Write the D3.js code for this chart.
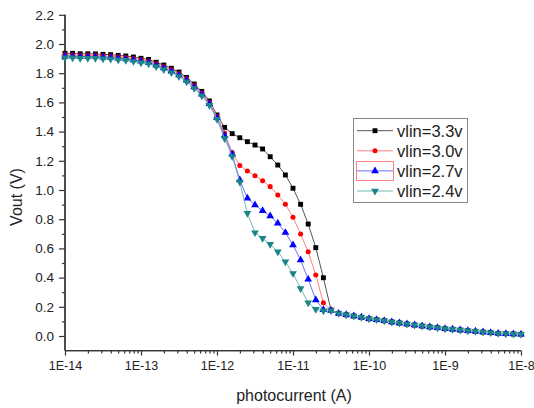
<!DOCTYPE html>
<html>
<head>
<meta charset="utf-8">
<script src="https://d3js.org/d3.v7.min.js"></script>
<style>
body { margin: 0; background: #fff; font-family: 'Liberation Sans', Arial, sans-serif; }
svg text { fill: #222; }
</style>
</head>
<body>
<svg id="chart"></svg>
<script>
// photocurrent exponents (10^x A), one point every 0.1 decade
var exps = [-14,-13.9,-13.8,-13.7,-13.6,-13.5,-13.4,-13.3,-13.2,-13.1,
  -13,-12.9,-12.8,-12.7,-12.6,-12.5,-12.4,-12.3,-12.2,-12.1,
  -12,-11.9,-11.8,-11.7,-11.6,-11.5,-11.4,-11.3,-11.2,-11.1,
  -11,-10.9,-10.8,-10.7,-10.6,-10.5,-10.4,-10.3,-10.2,-10.1,
  -10,-9.9,-9.8,-9.7,-9.6,-9.5,-9.4,-9.3,-9.2,-9.1,
  -9,-8.9,-8.8,-8.7,-8.6,-8.5,-8.4,-8.3,-8.2,-8.1,-8];

var tail = [0.155,0.145,0.137,0.128,0.118,0.112,0.105,0.096,0.089,0.082,
  0.075,0.068,0.062,0.057,0.050,0.046,0.041,0.036,0.032,0.027,
  0.023,0.018,0.016,0.014,0.012];

var v33 = [1.936,1.936,1.933,1.933,1.932,1.929,1.927,1.922,1.918,1.911,
  1.902,1.894,1.875,1.856,1.834,1.808,1.771,1.726,1.675,1.610,
  1.514,1.429,1.386,1.358,1.331,1.308,1.281,1.228,1.171,1.103,
  1.012,0.902,0.767,0.605,0.399,0.178].concat(tail);
var v30 = [1.926,1.926,1.923,1.923,1.922,1.919,1.917,1.912,1.908,1.901,
  1.892,1.884,1.865,1.846,1.824,1.798,1.761,1.716,1.665,1.600,
  1.504,1.390,1.256,1.167,1.130,1.098,1.064,1.023,0.966,0.902,
  0.813,0.699,0.577,0.418,0.228,0.176].concat(tail);
var v27 = [1.916,1.916,1.913,1.913,1.912,1.909,1.907,1.902,1.898,1.891,
  1.882,1.874,1.855,1.836,1.814,1.788,1.751,1.706,1.655,1.590,
  1.494,1.372,1.245,1.068,0.943,0.897,0.858,0.822,0.772,0.708,
  0.623,0.521,0.388,0.247,0.180,0.175].concat(tail);
var v24 = [1.906,1.906,1.903,1.903,1.902,1.899,1.897,1.892,1.888,1.881,
  1.872,1.864,1.845,1.826,1.804,1.778,1.741,1.696,1.645,1.580,
  1.484,1.352,1.230,1.055,0.840,0.708,0.669,0.628,0.577,0.509,
  0.429,0.326,0.228,0.183,0.173,0.173].concat(tail);

var names = ["vlin=3.3v", "vlin=3.0v", "vlin=2.7v", "vlin=2.4v"];
var yTicks = [0,0.2,0.4,0.6,0.8,1.0,1.2,1.4,1.6,1.8,2.0,2.2];
var yMinor = [0.1,0.3,0.5,0.7,0.9,1.1,1.3,1.5,1.7,1.9,2.1];
var xTicks = [1e-14,1e-13,1e-12,1e-11,1e-10,1e-9,1e-8];
var xTickLabels = ["1E-14","1E-13","1E-12","1E-11","1E-10","1E-9","1E-8"];

var styles = [
  {line: "#555", fill: "#000", shape: d3.symbolSquare, size: 24, rot: 0},
  {line: "#ff7f7f", fill: "#ff0000", shape: d3.symbolCircle, size: 20, rot: 0},
  {line: "#6f6fff", fill: "#0000ff", shape: d3.symbolTriangle, size: 26, rot: 0},
  {line: "#6fb8b8", fill: "#1a8585", shape: d3.symbolTriangle, size: 26, rot: 180}
];

var W = 534, H = 408;
var svg = d3.select("#chart").attr("width", W).attr("height", H);

var x = d3.scaleLog().domain([1e-14, 1e-8]).range([65, 521]);
var y = d3.scaleLinear().domain([-0.1, 2.2]).range([350.6, 14.8]);

var series = [v33, v30, v27, v24].map(function(vals, k) {
  return {name: names[k], st: styles[k], pts: vals.map(function(v, i) { return [Math.pow(10, exps[i]), v]; })};
});

// y axis
var gy = svg.append("g").attr("transform", "translate(65,0)");
gy.call(d3.axisLeft(y).tickValues(yTicks).tickFormat(d3.format(".1f")).tickSize(6).tickPadding(5));
gy.append("g").call(d3.axisLeft(y).tickValues(yMinor).tickFormat("").tickSize(3));
gy.selectAll(".domain").attr("stroke", "#333").attr("stroke-width", 1.3).attr("d", "M0," + y(-0.1) + "V" + y(2.2));
gy.selectAll("line").attr("stroke", "#333").attr("stroke-width", 1.2);
gy.selectAll("text").style("font-size", "13.5px").style("fill", "#222").style("font-family", "'Liberation Sans', Arial, sans-serif");

// x axis
var minor = [];
for (var e = -14; e < -8; e++) for (var m = 2; m <= 9; m++) minor.push(m * Math.pow(10, e));
var gx = svg.append("g").attr("transform", "translate(0," + y(-0.1) + ")");
gx.call(d3.axisBottom(x).tickValues(xTicks).tickFormat(function(d, i) { return xTickLabels[i]; }).tickSize(5).tickPadding(6));
gx.append("g").call(d3.axisBottom(x).tickValues(minor).tickFormat("").tickSize(3));
gx.selectAll(".domain").attr("stroke", "#333").attr("stroke-width", 1.3).attr("d", "M65,0H" + x(1e-8));
gx.selectAll("line").attr("stroke", "#333").attr("stroke-width", 1.2);
gx.selectAll("text").style("font-size", "12.5px").style("fill", "#222").style("font-family", "'Liberation Sans', Arial, sans-serif");

// axis titles
svg.append("text").attr("x", 294).attr("y", 401).attr("text-anchor", "middle")
  .style("font-size", "16px").text("photocurrent (A)");
svg.append("text").attr("transform", "translate(21.5,197) rotate(-90)").attr("text-anchor", "middle")
  .style("font-size", "16px").text("Vout (V)");

// curves
var line = d3.line().x(function(d) { return x(d[0]); }).y(function(d) { return y(d[1]); });
series.forEach(function(s) {
  var g = svg.append("g");
  g.append("path").datum(s.pts).attr("d", line).attr("fill", "none")
    .attr("stroke", s.st.line).attr("stroke-width", 1);
  g.selectAll("path.pt").data(s.pts).enter().append("path").attr("class", "pt")
    .attr("d", d3.symbol().type(s.st.shape).size(s.st.size))
    .attr("transform", function(d) { return "translate(" + x(d[0]) + "," + y(d[1]) + ") rotate(" + s.st.rot + ")"; })
    .attr("fill", s.st.fill);
});

// legend
var lg = svg.append("g");
lg.append("rect").attr("x", 353.5).attr("y", 118.5).attr("width", 114).attr("height", 84)
  .attr("fill", "#fff").attr("stroke", "#888").attr("stroke-width", 1);
lg.append("rect").attr("x", 356.5).attr("y", 161.5).attr("width", 37).attr("height", 19)
  .attr("fill", "none").attr("stroke", "#ff8080").attr("stroke-width", 1);
series.forEach(function(s, k) {
  var cy = 130.7 + k * 20.1;
  lg.append("line").attr("x1", 357).attr("x2", 393).attr("y1", cy).attr("y2", cy)
    .attr("stroke", s.st.line).attr("stroke-width", 1);
  lg.append("path").attr("d", d3.symbol().type(s.st.shape).size(s.st.size))
    .attr("transform", "translate(375," + cy + ") rotate(" + s.st.rot + ")").attr("fill", s.st.fill);
  lg.append("text").attr("x", 397).attr("y", cy).attr("dy", "0.36em")
    .style("font-size", "16.5px").text(s.name);
});
</script>
</body>
</html>
